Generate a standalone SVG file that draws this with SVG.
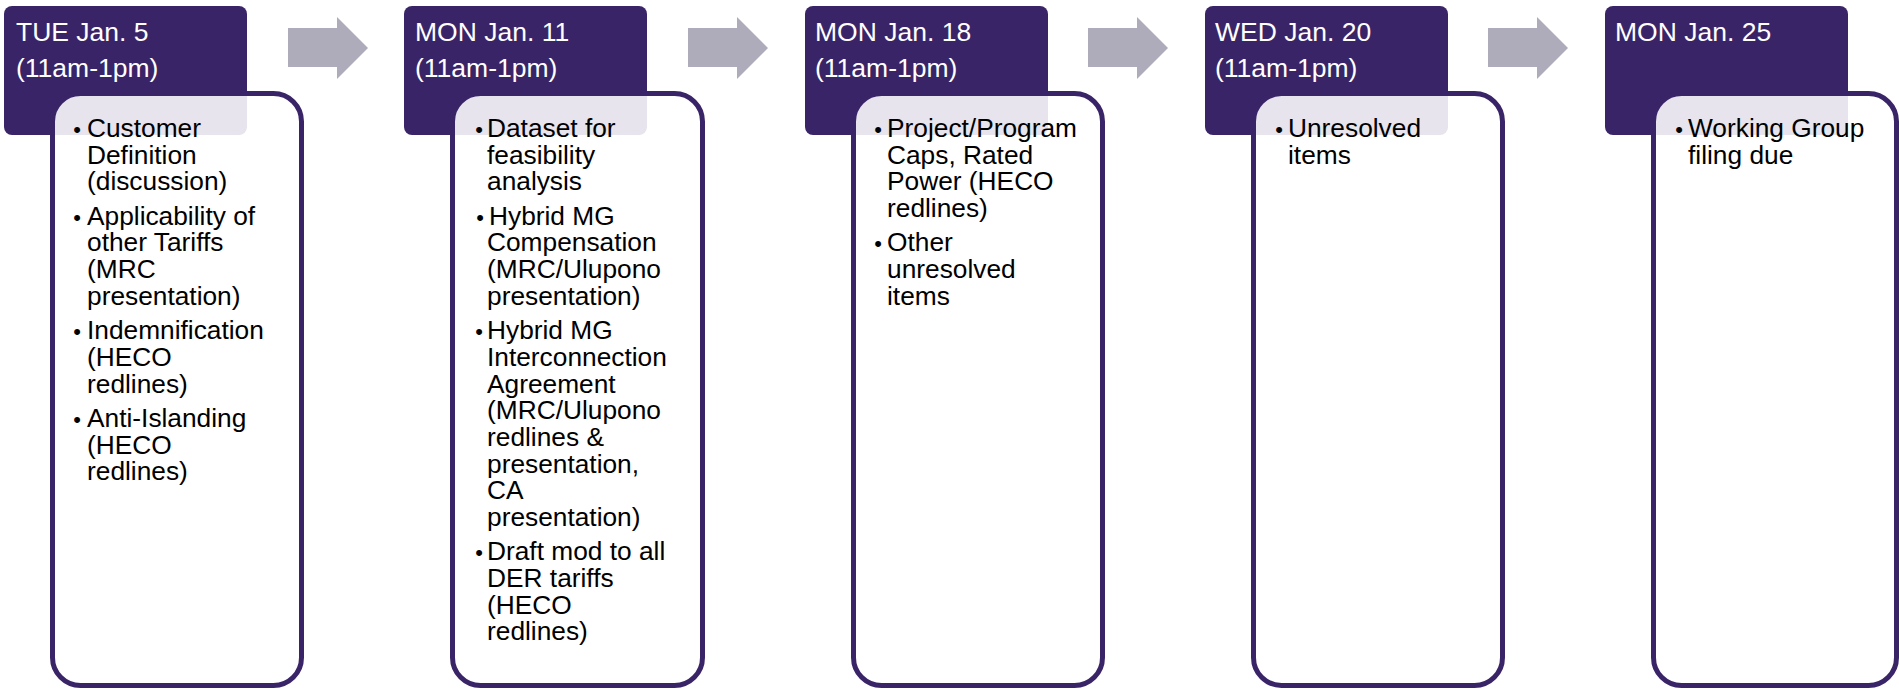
<svg xmlns="http://www.w3.org/2000/svg" width="1899" height="690" viewBox="0 0 1899 690">
<style>
.hd{fill:#3a2468}
.bd{fill:#ffffff;fill-opacity:0.88;stroke:#3a2468;stroke-width:5}
.ar{fill:#aeabbb}
.ht{font-family:"Liberation Sans",Arial,sans-serif;font-size:26.5px;fill:#ffffff}
.bt{font-family:"Liberation Sans",Arial,sans-serif;font-size:26.3px;fill:#000000}
.bu{font-family:"Liberation Sans",Arial,sans-serif;font-size:22px;fill:#000000;text-anchor:middle}
</style>
<rect width="1899" height="690" fill="#ffffff"/>
<g id="connectors">
<path class="ar" d="M288,28 H337 V17 L368,48 L337,79 V67 H288 Z"/>
<path class="ar" d="M688,28 H737 V17 L768,48 L737,79 V67 H688 Z"/>
<path class="ar" d="M1088,28 H1137 V17 L1168,48 L1137,79 V67 H1088 Z"/>
<path class="ar" d="M1488,28 H1537 V17 L1568,48 L1537,79 V67 H1488 Z"/>
</g>
<g id="node1">
<rect class="hd" x="4" y="6" width="243" height="129" rx="8"/>
<text class="ht"><tspan x="16" y="41">TUE Jan. 5</tspan><tspan x="16" y="77">(11am-1pm)</tspan></text>
<rect class="bd" x="52.5" y="93.5" width="249" height="592" rx="28"/>
<text class="bu"><tspan x="77" y="137">•</tspan><tspan x="77" y="224.7">•</tspan><tspan x="77" y="339.1">•</tspan><tspan x="77" y="426.8">•</tspan></text>
<text class="bt"><tspan x="87" y="137">Customer</tspan><tspan x="87" y="163.7">Definition</tspan><tspan x="87" y="190.4">(discussion)</tspan><tspan x="87" y="224.7">Applicability of</tspan><tspan x="87" y="251.4">other Tariffs</tspan><tspan x="87" y="278.1">(MRC</tspan><tspan x="87" y="304.8">presentation)</tspan><tspan x="87" y="339.1">Indemnification</tspan><tspan x="87" y="365.8">(HECO</tspan><tspan x="87" y="392.5">redlines)</tspan><tspan x="87" y="426.8">Anti-Islanding</tspan><tspan x="87" y="453.5">(HECO</tspan><tspan x="87" y="480.2">redlines)</tspan></text>
</g>
<g id="node2" transform="translate(400,0)">
<rect class="hd" x="4" y="6" width="243" height="129" rx="8"/>
<text class="ht"><tspan x="15" y="41">MON Jan. 11</tspan><tspan x="15" y="77">(11am-1pm)</tspan></text>
<rect class="bd" x="52.5" y="93.5" width="250" height="592" rx="28"/>
<text class="bu"><tspan x="79" y="137">•</tspan><tspan x="80" y="224.7">•</tspan><tspan x="79" y="339.1">•</tspan><tspan x="79" y="560.3">•</tspan></text>
<text class="bt"><tspan x="87" y="137">Dataset for</tspan><tspan x="87" y="163.7">feasibility</tspan><tspan x="87" y="190.4">analysis</tspan><tspan x="89" y="224.7">Hybrid MG</tspan><tspan x="87" y="251.4">Compensation</tspan><tspan x="87" y="278.1">(MRC/Ulupono</tspan><tspan x="87" y="304.8">presentation)</tspan><tspan x="87" y="339.1">Hybrid MG</tspan><tspan x="87" y="365.8">Interconnection</tspan><tspan x="87" y="392.5">Agreement</tspan><tspan x="87" y="419.2">(MRC/Ulupono</tspan><tspan x="87" y="445.9">redlines &amp;</tspan><tspan x="87" y="472.6">presentation,</tspan><tspan x="87" y="499.3">CA</tspan><tspan x="87" y="526">presentation)</tspan><tspan x="87" y="560.3">Draft mod to all</tspan><tspan x="87" y="587">DER tariffs</tspan><tspan x="87" y="613.7">(HECO</tspan><tspan x="87" y="640.4">redlines)</tspan></text>
</g>
<g id="node3" transform="translate(801,0)">
<rect class="hd" x="4" y="6" width="243" height="129" rx="8"/>
<text class="ht"><tspan x="14" y="41">MON Jan. 18</tspan><tspan x="14" y="77">(11am-1pm)</tspan></text>
<rect class="bd" x="52.5" y="93.5" width="249" height="592" rx="28"/>
<text class="bu"><tspan x="77" y="137">•</tspan><tspan x="77" y="251.4">•</tspan></text>
<text class="bt"><tspan x="86" y="137">Project/Program</tspan><tspan x="86" y="163.7">Caps, Rated</tspan><tspan x="86" y="190.4">Power (HECO</tspan><tspan x="86" y="217.1">redlines)</tspan><tspan x="86" y="251.4">Other</tspan><tspan x="86" y="278.1">unresolved</tspan><tspan x="86" y="304.8">items</tspan></text>
</g>
<g id="node4" transform="translate(1201,0)">
<rect class="hd" x="4" y="6" width="243" height="129" rx="8"/>
<text class="ht"><tspan x="14" y="41">WED Jan. 20</tspan><tspan x="14" y="77">(11am-1pm)</tspan></text>
<rect class="bd" x="52.5" y="93.5" width="249" height="592" rx="28"/>
<text class="bu"><tspan x="78" y="137">•</tspan></text>
<text class="bt"><tspan x="87" y="137">Unresolved</tspan><tspan x="87" y="163.7">items</tspan></text>
</g>
<g id="node5" transform="translate(1601,0)">
<rect class="hd" x="4" y="6" width="243" height="129" rx="8"/>
<text class="ht"><tspan x="14" y="41">MON Jan. 25</tspan></text>
<rect class="bd" x="52.5" y="93.5" width="243" height="592" rx="28"/>
<text class="bu"><tspan x="78" y="137">•</tspan></text>
<text class="bt"><tspan x="87" y="137">Working Group</tspan><tspan x="87" y="163.7">filing due</tspan></text>
</g>
</svg>
